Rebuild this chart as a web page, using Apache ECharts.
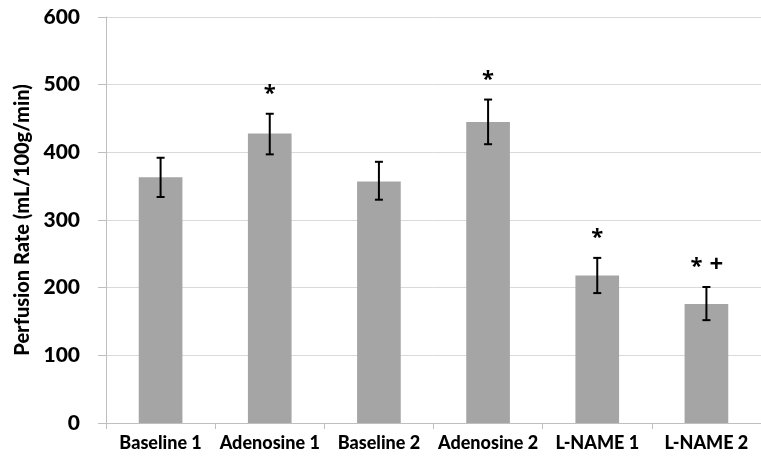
<!DOCTYPE html>
<html>
<head>
<meta charset="utf-8">
<script src="https://cdn.jsdelivr.net/npm/echarts@6/dist/echarts.min.js"></script>
<style>
  html, body { margin: 0; padding: 0; background: #fff; }
  #chart { width: 761px; height: 464px; }
</style>
</head>
<body>
<div id="chart"></div>
<script>
// data
var categories = ['Baseline 1', 'Adenosine 1', 'Baseline 2', 'Adenosine 2', 'L-NAME 1', 'L-NAME 2'];
var perfusion = [363, 428, 357, 445, 218, 176];
var errLow = [334, 397, 330, 412, 192, 152];
var errHigh = [392, 457, 386, 478, 244, 201];
var marks = ['', '*', '', '*', '*', '* +'];

var font = 'Lato, "Open Sans", sans-serif';

var errData = categories.map(function (c, i) {
  return [i, errLow[i], errHigh[i]];
});

var chart = echarts.init(document.getElementById('chart'));
chart.setOption({
  animation: false,
  grid: { left: 106, top: 17, bottom: 41, width: 665 },
  xAxis: {
    type: 'category',
    data: categories,
    axisLine: { lineStyle: { color: '#bfbfbf', width: 1 } },
    axisTick: { show: true, length: 6, lineStyle: { color: '#bfbfbf' } },
    axisLabel: { interval: 0, color: '#000', fontFamily: font, fontWeight: 900, fontSize: 18, margin: 11 }
  },
  yAxis: {
    type: 'value',
    min: 0,
    max: 600,
    interval: 100,
    name: 'Perfusion Rate (mL/100g/min)',
    nameLocation: 'middle',
    nameGap: 66,
    nameTextStyle: { color: '#000', fontFamily: font, fontWeight: 900, fontSize: 20 },
    axisLine: { show: true, lineStyle: { color: '#bfbfbf', width: 1 } },
    axisTick: { show: true, length: 8, lineStyle: { color: '#bfbfbf' } },
    axisLabel: { color: '#000', fontFamily: font, fontWeight: 900, fontSize: 21, margin: 26 },
    splitLine: { lineStyle: { color: '#d9d9d9', width: 1 } }
  },
  series: [
    {
      type: 'bar',
      data: perfusion,
      barWidth: '40%',
      itemStyle: { color: '#a5a5a5' }
    },
    {
      type: 'custom',
      data: errData,
      z: 10,
      renderItem: function (params, api) {
        var x = api.coord([api.value(0), 0])[0];
        var lo = api.coord([api.value(0), api.value(1)])[1];
        var hi = api.coord([api.value(0), api.value(2)])[1];
        var cap = 4;
        var st = { stroke: '#000', lineWidth: 2 };
        var children = [
          { type: 'line', shape: { x1: x, y1: hi, x2: x, y2: lo }, style: st },
          { type: 'line', shape: { x1: x - cap, y1: hi, x2: x + cap, y2: hi }, style: st },
          { type: 'line', shape: { x1: x - cap, y1: lo, x2: x + cap, y2: lo }, style: st }
        ];
        var parts = marks[params.dataIndex] ? marks[params.dataIndex].split(' ') : [];
        var step = 20;
        parts.forEach(function (p, k) {
          var cx = x + (k - (parts.length - 1) / 2) * step;
          var isStar = p === '*';
          children.push({
            type: 'text',
            style: {
              x: cx, y: hi - (isStar ? 20 : 22), text: p,
              align: 'center', verticalAlign: 'middle',
              fill: '#000',
              font: 'bold ' + (isStar ? 22 : 24) + 'px "Open Sans", sans-serif'
            }
          });
        });
        return { type: 'group', children: children };
      }
    }
  ]
});
</script>
</body>
</html>
